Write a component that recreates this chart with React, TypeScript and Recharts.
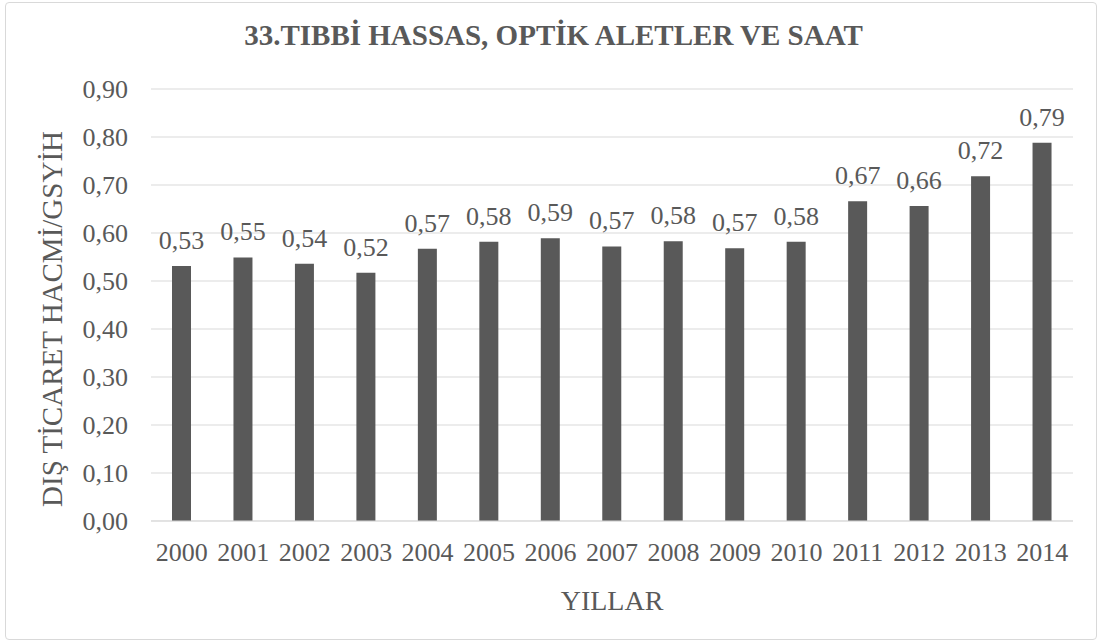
import { BarChart, Bar, XAxis, YAxis, CartesianGrid, LabelList, Label } from "recharts";

const years = ["2000", "2001", "2002", "2003", "2004", "2005", "2006", "2007", "2008", "2009", "2010", "2011", "2012", "2013", "2014"];
const ratio = [0.531, 0.549, 0.536, 0.517, 0.567, 0.582, 0.589, 0.572, 0.583, 0.568, 0.582, 0.666, 0.656, 0.718, 0.788];
const yTicks = [0, 0.1, 0.2, 0.3, 0.4, 0.5, 0.6, 0.7, 0.8, 0.9];

const chartTitle = "33.TIBBİ HASSAS, OPTİK ALETLER VE SAAT";
const yTitle = "DIŞ TİCARET HACMİ/GSYİH";
const xTitle = "YILLAR";

const FONT = '"Liberation Serif", "Times New Roman", serif';
const TEXT = "#595959";

const fmt = (v: number) => v.toFixed(2).replace(".", ",");

export default function App() {
  const data = years.map((year, i) => ({ year, value: ratio[i] }));

  return (
    <div style={{ position: "absolute", left: 0, top: 0, width: 1103, height: 642, background: "#fff", fontFamily: FONT }}>
      <div
        style={{
          position: "absolute",
          left: 5,
          top: 2,
          width: 1090,
          height: 636,
          border: "1px solid #d9d9d9",
          borderRadius: 4,
        }}
      />
      <div
        style={{
          position: "absolute",
          left: 2,
          top: 21,
          width: 1103,
          textAlign: "center",
          fontSize: 29,
          lineHeight: "29px",
          fontWeight: "bold",
          color: TEXT,
        }}
      >
        {chartTitle}
      </div>
      <BarChart
        width={1103}
        height={642}
        data={data}
        margin={{ top: 89, right: 30, bottom: 0, left: 0 }}
        barCategoryGap={0}
        style={{ position: "absolute", left: 0, top: 0 }}
      >
        <CartesianGrid vertical={false} stroke="#d9d9d9" strokeWidth={1} />
        <XAxis
          dataKey="year"
          height={121}
          tickLine={false}
          tickSize={0}
          tickMargin={22}
          axisLine={{ stroke: "#d9d9d9" }}
          tick={{ fill: TEXT, fontSize: 26, fontFamily: FONT }}
          interval={0}
        >
          <Label
            content={(props: any) => {
              const vb = props.viewBox;
              return (
                <text x={vb.x + vb.width / 2} y={vb.y + 89} textAnchor="middle" fill={TEXT} fontSize={28} fontFamily={FONT}>
                  {xTitle}
                </text>
              );
            }}
          />
        </XAxis>
        <YAxis
          width={151}
          domain={[0, 0.9]}
          ticks={yTicks}
          tickFormatter={fmt}
          tickLine={false}
          tickSize={0}
          tickMargin={23}
          axisLine={false}
          tick={{ fill: TEXT, fontSize: 26, fontFamily: FONT }}
        >
          <Label
            content={(props: any) => {
              const vb = props.viewBox;
              const cy = vb.y + vb.height / 2 + 14;
              return (
                <text
                  transform={`translate(62, ${cy}) rotate(-90)`}
                  x={0}
                  y={0}
                  textAnchor="middle"
                  fill={TEXT}
                  fontSize={29}
                  fontFamily={FONT}
                >
                  {yTitle}
                </text>
              );
            }}
          />
        </YAxis>
        <Bar dataKey="value" fill="#595959" barSize={19} isAnimationActive={false}>
          <LabelList
            dataKey="value"
            position="top"
            offset={17}
            formatter={(v: any) => fmt(Number(v))}
            style={{ fill: TEXT, fontSize: 26, fontFamily: FONT }}
          />
        </Bar>
      </BarChart>
    </div>
  );
}
